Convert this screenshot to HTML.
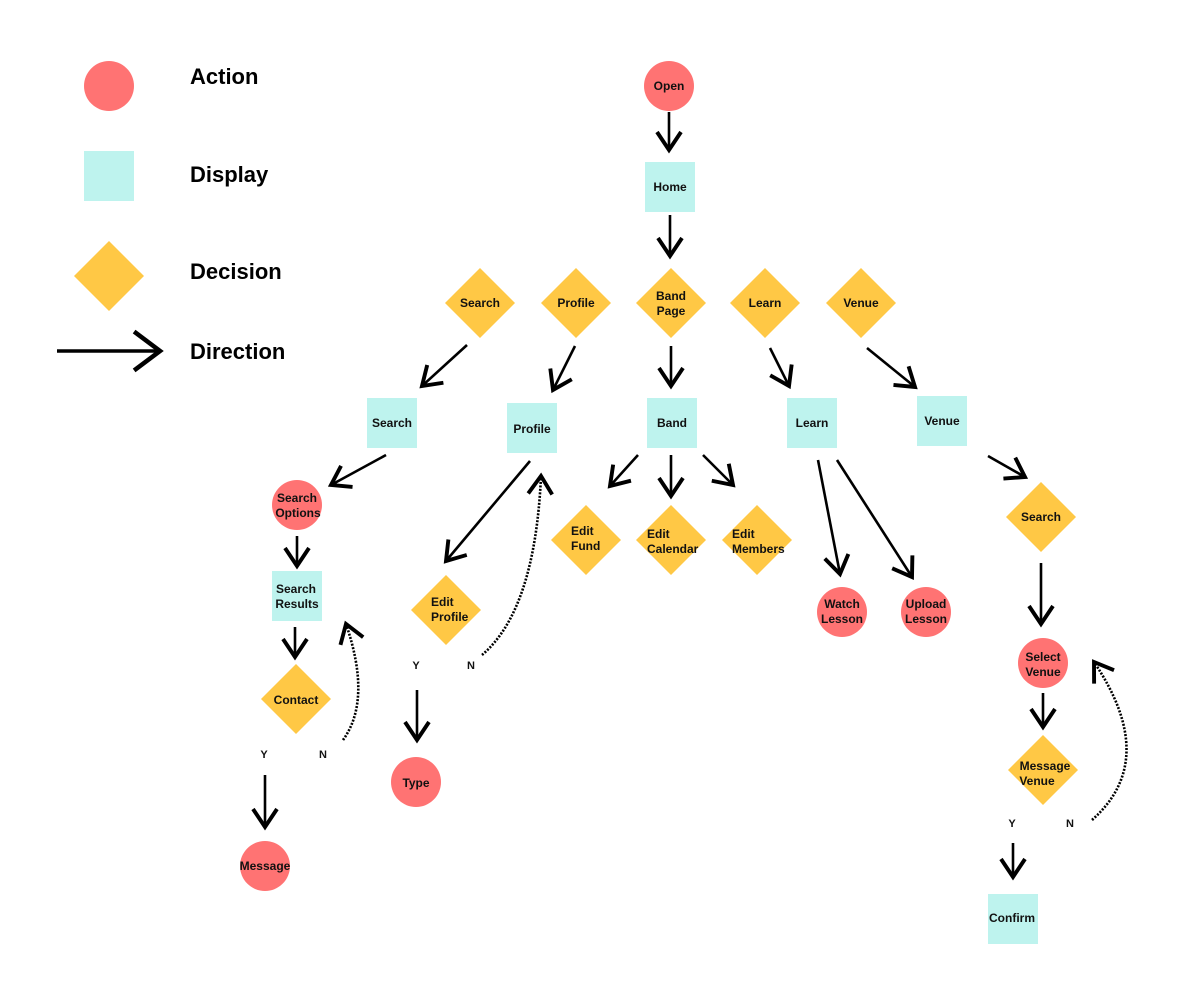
<!DOCTYPE html>
<html><head><meta charset="utf-8"><style>
html,body{margin:0;padding:0;background:#fff;}
svg{display:block;font-family:"Liberation Sans",sans-serif;font-weight:bold;}
</style></head><body>
<svg width="1185" height="1005" viewBox="0 0 1185 1005" xmlns="http://www.w3.org/2000/svg">
<defs>
<marker id="a" markerUnits="userSpaceOnUse" markerWidth="30" markerHeight="30" viewBox="-2 -2 16 20" refX="12" refY="8" orient="auto">
<path d="M0,0 L12,8 L0,16" fill="none" stroke="#000" stroke-width="2.6"/>
</marker>
<marker id="b" markerUnits="userSpaceOnUse" markerWidth="44" markerHeight="44" viewBox="-2 -2 24 34" refX="20" refY="15" orient="auto">
<path d="M0,0 L20,15 L0,30" fill="none" stroke="#000" stroke-width="3.5"/>
</marker>
</defs>
<g fill="#FF7373">
<circle cx="109" cy="86" r="25"/>
<circle cx="669" cy="86" r="25"/>
<circle cx="297" cy="505" r="25"/>
<circle cx="265" cy="866" r="25"/>
<circle cx="416" cy="782" r="25"/>
<circle cx="842" cy="612" r="25"/>
<circle cx="926" cy="612" r="25"/>
<circle cx="1043" cy="663" r="25"/>
</g>
<g fill="#BEF3EE">
<rect x="84" y="151" width="50" height="50"/>
<rect x="645" y="162" width="50" height="50"/>
<rect x="367" y="398" width="50" height="50"/>
<rect x="507" y="403" width="50" height="50"/>
<rect x="647" y="398" width="50" height="50"/>
<rect x="787" y="398" width="50" height="50"/>
<rect x="917" y="396" width="50" height="50"/>
<rect x="272" y="571" width="50" height="50"/>
<rect x="988" y="894" width="50" height="50"/>
</g>
<g fill="#FFC845">
<path d="M109,241 l35,35 l-35,35 l-35,-35z"/>
<path d="M480,268 l35,35 l-35,35 l-35,-35z"/>
<path d="M576,268 l35,35 l-35,35 l-35,-35z"/>
<path d="M671,268 l35,35 l-35,35 l-35,-35z"/>
<path d="M765,268 l35,35 l-35,35 l-35,-35z"/>
<path d="M861,268 l35,35 l-35,35 l-35,-35z"/>
<path d="M586,505 l35,35 l-35,35 l-35,-35z"/>
<path d="M671,505 l35,35 l-35,35 l-35,-35z"/>
<path d="M757,505 l35,35 l-35,35 l-35,-35z"/>
<path d="M1041,482 l35,35 l-35,35 l-35,-35z"/>
<path d="M1043,735 l35,35 l-35,35 l-35,-35z"/>
<path d="M296,664 l35,35 l-35,35 l-35,-35z"/>
<path d="M446,575 l35,35 l-35,35 l-35,-35z"/>
</g>
<g stroke="#000" stroke-width="2.6" fill="none" marker-end="url(#a)">
<line x1="669" y1="112" x2="669" y2="150"/>
<line x1="670" y1="215" x2="670" y2="256"/>
<line x1="467" y1="345" x2="422" y2="386"/>
<line x1="575" y1="346" x2="553" y2="390"/>
<line x1="671" y1="346" x2="671" y2="386"/>
<line x1="770" y1="348" x2="789" y2="386"/>
<line x1="867" y1="348" x2="915" y2="387"/>
<line x1="638" y1="455" x2="610" y2="486"/>
<line x1="671" y1="455" x2="671" y2="496"/>
<line x1="703" y1="455" x2="733" y2="485"/>
<line x1="818" y1="460" x2="840" y2="574"/>
<line x1="837" y1="460" x2="912" y2="577"/>
<line x1="988" y1="456" x2="1025" y2="477"/>
<line x1="1041" y1="563" x2="1041" y2="624"/>
<line x1="1043" y1="693" x2="1043" y2="727"/>
<line x1="1013" y1="843" x2="1013" y2="877"/>
<line x1="386" y1="455" x2="331" y2="485"/>
<line x1="297" y1="536" x2="297" y2="566"/>
<line x1="295" y1="627" x2="295" y2="657"/>
<line x1="265" y1="775" x2="265" y2="827"/>
<line x1="530" y1="461" x2="446" y2="561"/>
<line x1="417" y1="690" x2="417" y2="740"/>
</g>
<line x1="57" y1="351" x2="160" y2="351" stroke="#000" stroke-width="3.5" marker-end="url(#b)"/>
<g stroke="#000" stroke-width="2.6" fill="none" stroke-dasharray="2,1.5" marker-end="url(#a)">
<path d="M343,740 Q372,700 346,624"/>
<path d="M482,655 Q535,610 541,476"/>
<path d="M1092,820 Q1160,760 1094,662"/>
</g>
<g font-size="22" fill="#000">
<text x="190" y="84">Action</text>
<text x="190" y="182">Display</text>
<text x="190" y="279">Decision</text>
<text x="190" y="359">Direction</text>
</g>
<g font-size="12" fill="#111" text-anchor="middle">
<text x="669" y="90">Open</text>
<text x="670" y="191">Home</text>
<text x="480" y="307">Search</text>
<text x="576" y="307">Profile</text>
<text x="671" y="300">Band</text><text x="671" y="315">Page</text>
<text x="765" y="307">Learn</text>
<text x="861" y="307">Venue</text>
<text x="392" y="427">Search</text>
<text x="532" y="433">Profile</text>
<text x="672" y="427">Band</text>
<text x="812" y="427">Learn</text>
<text x="942" y="425">Venue</text>
<text x="842" y="608">Watch</text><text x="842" y="623">Lesson</text>
<text x="926" y="608">Upload</text><text x="926" y="623">Lesson</text>
<text x="1041" y="521">Search</text>
<text x="1043" y="661">Select</text><text x="1043" y="676">Venue</text>
<text x="1045" y="770">Message</text><text x="1037" y="785">Venue</text>
<text x="1012" y="922">Confirm</text>
<text x="297" y="502">Search</text><text x="298" y="517">Options</text>
<text x="296" y="593">Search</text><text x="297" y="608">Results</text>
<text x="296" y="704">Contact</text>
<text x="265" y="870">Message</text>
<text x="416" y="787">Type</text>
<text x="264" y="758" font-size="11">Y</text>
<text x="323" y="758" font-size="11">N</text>
<text x="416" y="669" font-size="11">Y</text>
<text x="471" y="669" font-size="11">N</text>
<text x="1012" y="827" font-size="11">Y</text>
<text x="1070" y="827" font-size="11">N</text>
</g>
<g font-size="12" fill="#111">
<text x="571" y="535">Edit</text><text x="571" y="550">Fund</text>
<text x="647" y="538">Edit</text><text x="647" y="553">Calendar</text>
<text x="732" y="538">Edit</text><text x="732" y="553">Members</text>
<text x="431" y="606">Edit</text><text x="431" y="621">Profile</text>
</g>
</svg>
</body></html>
